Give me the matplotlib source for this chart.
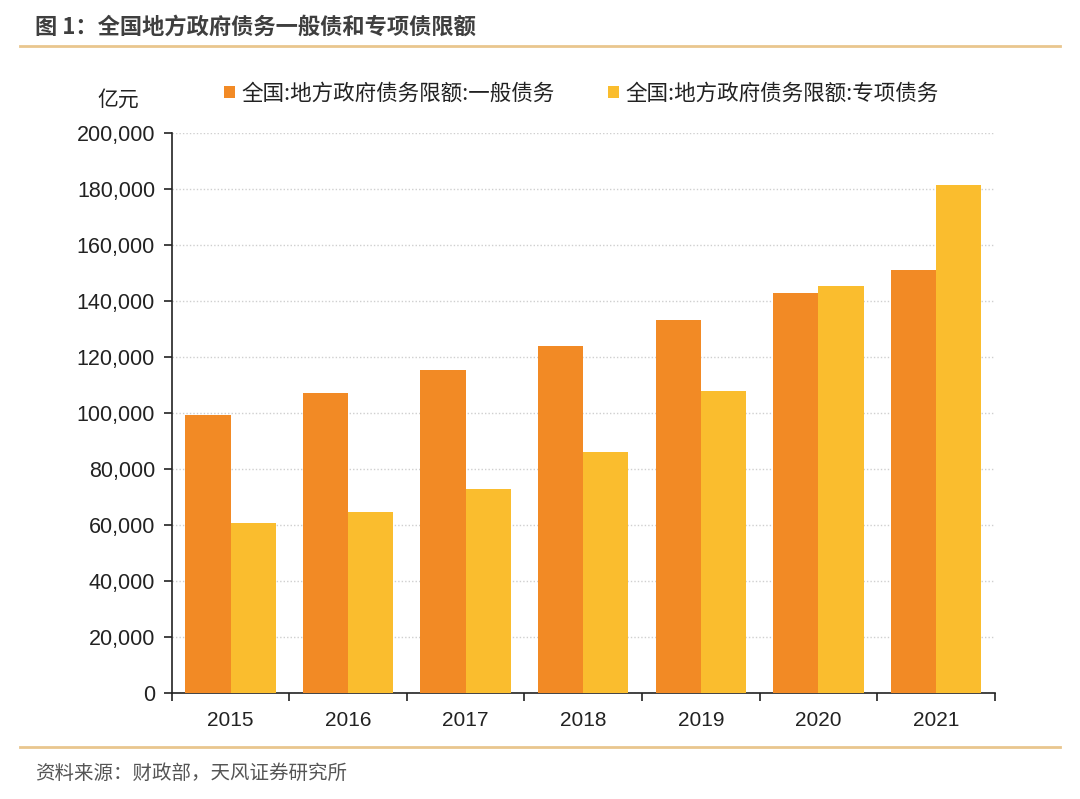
import matplotlib
matplotlib.use("Agg")
import matplotlib.pyplot as plt
from matplotlib.lines import Line2D
from matplotlib.ticker import FuncFormatter, MultipleLocator
import numpy as np

plt.rcParams['font.family'] = ['Noto Sans CJK SC', 'DejaVu Sans']

years = ["2015", "2016", "2017", "2018", "2019", "2020", "2021"]
general = [99272, 107072, 115489, 123789, 133089, 142889, 151089]
special = [60802, 64802, 72685, 86185, 107685, 145185, 181485]
series_names = ["全国:地方政府债务限额:一般债务", "全国:地方政府债务限额:专项债务"]
colors = ["#F28A25", "#FABD2E"]

fig = plt.figure(figsize=(10.8, 7.99), dpi=100)
ax = fig.add_axes([0.159, 0.1327, 0.762, 0.7008])

x = np.arange(len(years))
w = 0.385
ax.bar(x - w / 2, general, width=w, color=colors[0], label=series_names[0], zorder=3)
ax.bar(x + w / 2, special, width=w, color=colors[1], label=series_names[1], zorder=3)

ax.set_xlim(-0.5, len(years) - 0.5)
ax.set_ylim(0, 200000)
ax.yaxis.set_major_locator(MultipleLocator(20000))
ax.yaxis.set_major_formatter(FuncFormatter(lambda v, p: f"{int(v):,}"))
ax.set_xticks(x)
ax.set_xticklabels(years)
ax.set_xticks(np.arange(-0.5, len(years), 1.0), minor=True)
ax.tick_params(axis='x', which='major', length=0, pad=13, labelsize=15, colors='#222222')
ax.tick_params(axis='x', which='minor', length=6, width=1.2, direction='out', color='#222222')
ax.tick_params(axis='y', which='major', length=6, width=1.2, direction='out', labelsize=15.5,
               colors='#222222', pad=6)
for lab in ax.get_yticklabels() + ax.get_xticklabels():
    lab.set_family(['Liberation Sans', 'DejaVu Sans'])

ax.grid(axis='y', linestyle=(0, (1, 1.5)), color='#CFCFCF', linewidth=1, zorder=0)
for s in ['top', 'right']:
    ax.spines[s].set_visible(False)
ax.spines['left'].set_color('#222222')
ax.spines['bottom'].set_color('#222222')
ax.spines['left'].set_linewidth(1.2)
ax.spines['bottom'].set_linewidth(1.2)

leg = ax.legend(loc='lower left', bbox_to_anchor=(0.053, 1.035), ncol=2, frameon=False,
                fontsize=15.5, handlelength=0.5, handleheight=0.5, handletextpad=0.3,
                columnspacing=2.5, borderaxespad=0)
for t in leg.get_texts():
    t.set_color('#222222')

fig.text(118 / 1080, 1 - 100 / 799, "亿元", fontsize=15, ha='center', va='center', color='#222222')

fig.text(35 / 1080, 1 - 27 / 799, "图 1：全国地方政府债务一般债和专项债限额", fontsize=16,
         fontweight='bold', ha='left', va='center', color='#3F3F3F')
fig.add_artist(Line2D([20 / 1080, 1060 / 1080], [1 - 46 / 799, 1 - 46 / 799],
                      color='#E9C68E', linewidth=2, transform=fig.transFigure))
fig.add_artist(Line2D([20 / 1080, 1060 / 1080], [1 - 747 / 799, 1 - 747 / 799],
                      color='#E9C68E', linewidth=2, transform=fig.transFigure))
fig.text(35 / 1080, 1 - 773 / 799, "资料来源：财政部，天风证券研究所", fontsize=14,
         ha='left', va='center', color='#555555')

fig.savefig("out.png", dpi=100, facecolor='white')
